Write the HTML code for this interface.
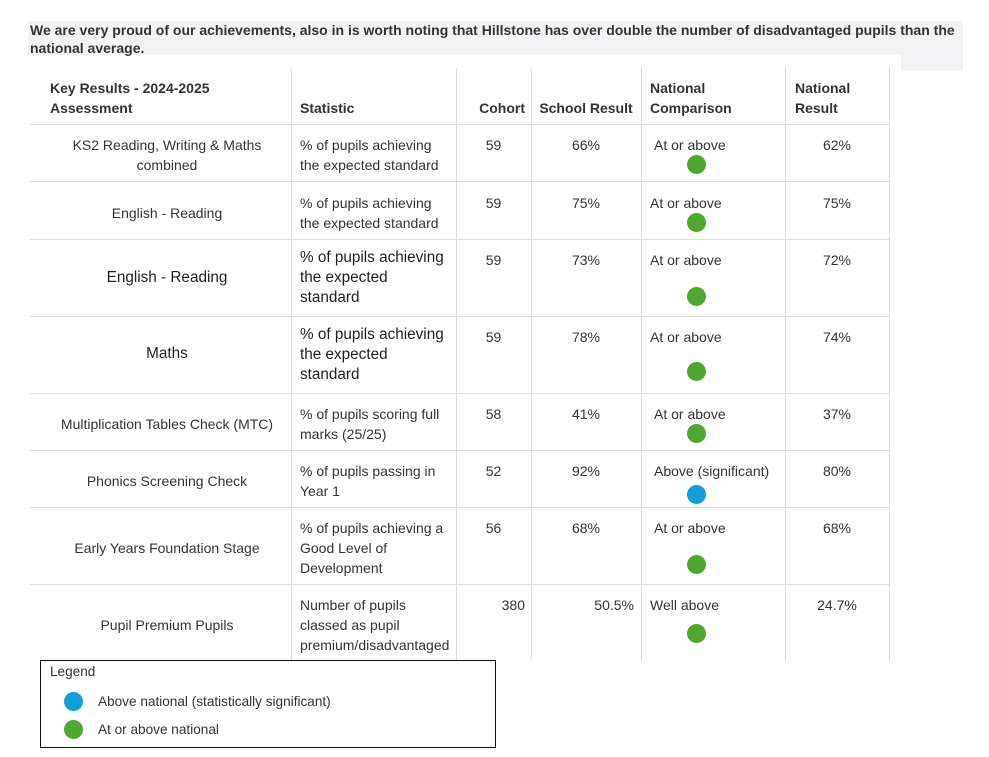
<!DOCTYPE html>
<html><head><meta charset="utf-8">
<style>
*{margin:0;padding:0;box-sizing:border-box}
html,body{width:989px;height:757px;background:#fff;overflow:hidden}
body{position:relative;font-family:"Liberation Sans",Arial,sans-serif;font-size:14px;color:#333;line-height:20px}
.a{position:absolute;white-space:nowrap}
.h{position:absolute;height:1px;background:#dcdcdc;left:30px;width:860px}
.v{position:absolute;width:1px;background:#dcdcdc;top:68px;height:592px}
.b{font-weight:bold}
.c1{left:30px;width:274px;text-align:center}
.co{left:456px;width:75px;text-align:center}
.sr{left:531px;width:110px;text-align:center}
.nr{left:785px;width:104px;text-align:center}
.apt{font-size:15.3px;color:#1f1f1f}
.dot{position:absolute;width:19px;height:19px;border-radius:50%;background:#4ea72e}
.blue{background:#129fd8}
.lg{font-size:13.6px}
</style></head><body>
<div style="position:absolute;left:28px;top:21px;width:935px;height:34px;background:#f3f3f5"></div>
<div style="position:absolute;left:901px;top:21px;width:62px;height:50px;background:#f3f3f5"></div>
<div class="a b" style="left:30px;top:20px;font-size:14px">We are very proud of our achievements, also in is worth noting that Hillstone has over double the number of disadvantaged pupils than the</div>
<div class="a b" style="left:30px;top:38px;font-size:14px">national average.</div>

<!-- grid -->
<div class="h" style="top:124px"></div>
<div class="h" style="top:181px"></div>
<div class="h" style="top:239px"></div>
<div class="h" style="top:316px"></div>
<div class="h" style="top:393px"></div>
<div class="h" style="top:450px"></div>
<div class="h" style="top:507px"></div>
<div class="h" style="top:584px"></div>
<div class="v" style="left:291px"></div>
<div class="v" style="left:456px"></div>
<div class="v" style="left:531px"></div>
<div class="v" style="left:641px"></div>
<div class="v" style="left:785px"></div>
<div class="v" style="left:889px"></div>

<!-- header -->
<div class="a b" style="left:50px;top:78px">Key Results - 2024-2025</div>
<div class="a b" style="left:50px;top:98px">Assessment</div>
<div class="a b" style="left:300px;top:98px">Statistic</div>
<div class="a b" style="left:456px;width:69px;text-align:right;top:98px">Cohort</div>
<div class="a b sr" style="top:98px">School Result</div>
<div class="a b" style="left:650px;top:78px">National</div>
<div class="a b" style="left:650px;top:98px">Comparison</div>
<div class="a b" style="left:795px;top:78px">National</div>
<div class="a b" style="left:795px;top:98px">Result</div>

<!-- row1 -->
<div class="a c1" style="top:135px">KS2 Reading, Writing &amp; Maths<br>combined</div>
<div class="a" style="left:300px;top:135px">% of pupils achieving<br>the expected standard</div>
<div class="a co" style="top:135px">59</div>
<div class="a sr" style="top:135px">66%</div>
<div class="a" style="left:654px;top:135px">At or above</div>
<div class="a nr" style="top:135px">62%</div>
<div class="dot" style="left:687px;top:155px"></div>

<!-- row2 -->
<div class="a c1" style="top:203px">English - Reading</div>
<div class="a" style="left:300px;top:193px">% of pupils achieving<br>the expected standard</div>
<div class="a co" style="top:193px">59</div>
<div class="a sr" style="top:193px">75%</div>
<div class="a" style="left:650px;top:193px">At or above</div>
<div class="a nr" style="top:193px">75%</div>
<div class="dot" style="left:687px;top:213px"></div>

<!-- row3 -->
<div class="a c1 apt" style="top:268px">English - Reading</div>
<div class="a apt" style="left:300px;top:248px">% of pupils achieving<br>the expected<br>standard</div>
<div class="a co" style="top:250px">59</div>
<div class="a sr" style="top:250px">73%</div>
<div class="a" style="left:650px;top:250px">At or above</div>
<div class="a nr" style="top:250px">72%</div>
<div class="dot" style="left:687px;top:287px"></div>

<!-- row4 -->
<div class="a c1 apt" style="top:344px">Maths</div>
<div class="a apt" style="left:300px;top:325px">% of pupils achieving<br>the expected<br>standard</div>
<div class="a co" style="top:327px">59</div>
<div class="a sr" style="top:327px">78%</div>
<div class="a" style="left:650px;top:327px">At or above</div>
<div class="a nr" style="top:327px">74%</div>
<div class="dot" style="left:687px;top:362px"></div>

<!-- row5 -->
<div class="a c1" style="top:414px">Multiplication Tables Check (MTC)</div>
<div class="a" style="left:300px;top:404px">% of pupils scoring full<br>marks (25/25)</div>
<div class="a co" style="top:404px">58</div>
<div class="a sr" style="top:404px">41%</div>
<div class="a" style="left:654px;top:404px">At or above</div>
<div class="a nr" style="top:404px">37%</div>
<div class="dot" style="left:687px;top:424px"></div>

<!-- row6 -->
<div class="a c1" style="top:471px">Phonics Screening Check</div>
<div class="a" style="left:300px;top:461px">% of pupils passing in<br>Year 1</div>
<div class="a co" style="top:461px">52</div>
<div class="a sr" style="top:461px">92%</div>
<div class="a" style="left:654px;top:461px">Above (significant)</div>
<div class="a nr" style="top:461px">80%</div>
<div class="dot blue" style="left:687px;top:485px"></div>

<!-- row7 -->
<div class="a c1" style="top:538px">Early Years Foundation Stage</div>
<div class="a" style="left:300px;top:518px">% of pupils achieving a<br>Good Level of<br>Development</div>
<div class="a co" style="top:518px">56</div>
<div class="a sr" style="top:518px">68%</div>
<div class="a" style="left:654px;top:518px">At or above</div>
<div class="a nr" style="top:518px">68%</div>
<div class="dot" style="left:687px;top:555px"></div>

<!-- row8 -->
<div class="a c1" style="top:615px">Pupil Premium Pupils</div>
<div class="a" style="left:300px;top:595px">Number of pupils<br>classed as pupil<br>premium/disadvantaged</div>
<div class="a" style="left:456px;width:69px;text-align:right;top:595px">380</div>
<div class="a" style="left:531px;width:103px;text-align:right;top:595px">50.5%</div>
<div class="a" style="left:650px;top:595px">Well above</div>
<div class="a nr" style="top:595px">24.7%</div>
<div class="dot" style="left:687px;top:624px"></div>

<!-- legend -->
<div style="position:absolute;left:40px;top:660px;width:456px;height:88px;border:1px solid #111;background:#fff"></div>
<div class="a lg" style="left:50px;top:662px">Legend</div>
<div class="dot blue" style="left:64px;top:692px"></div>
<div class="a lg" style="left:98px;top:692px">Above national (statistically significant)</div>
<div class="dot" style="left:64px;top:720px"></div>
<div class="a lg" style="left:98px;top:720px">At or above national</div>
</body></html>
